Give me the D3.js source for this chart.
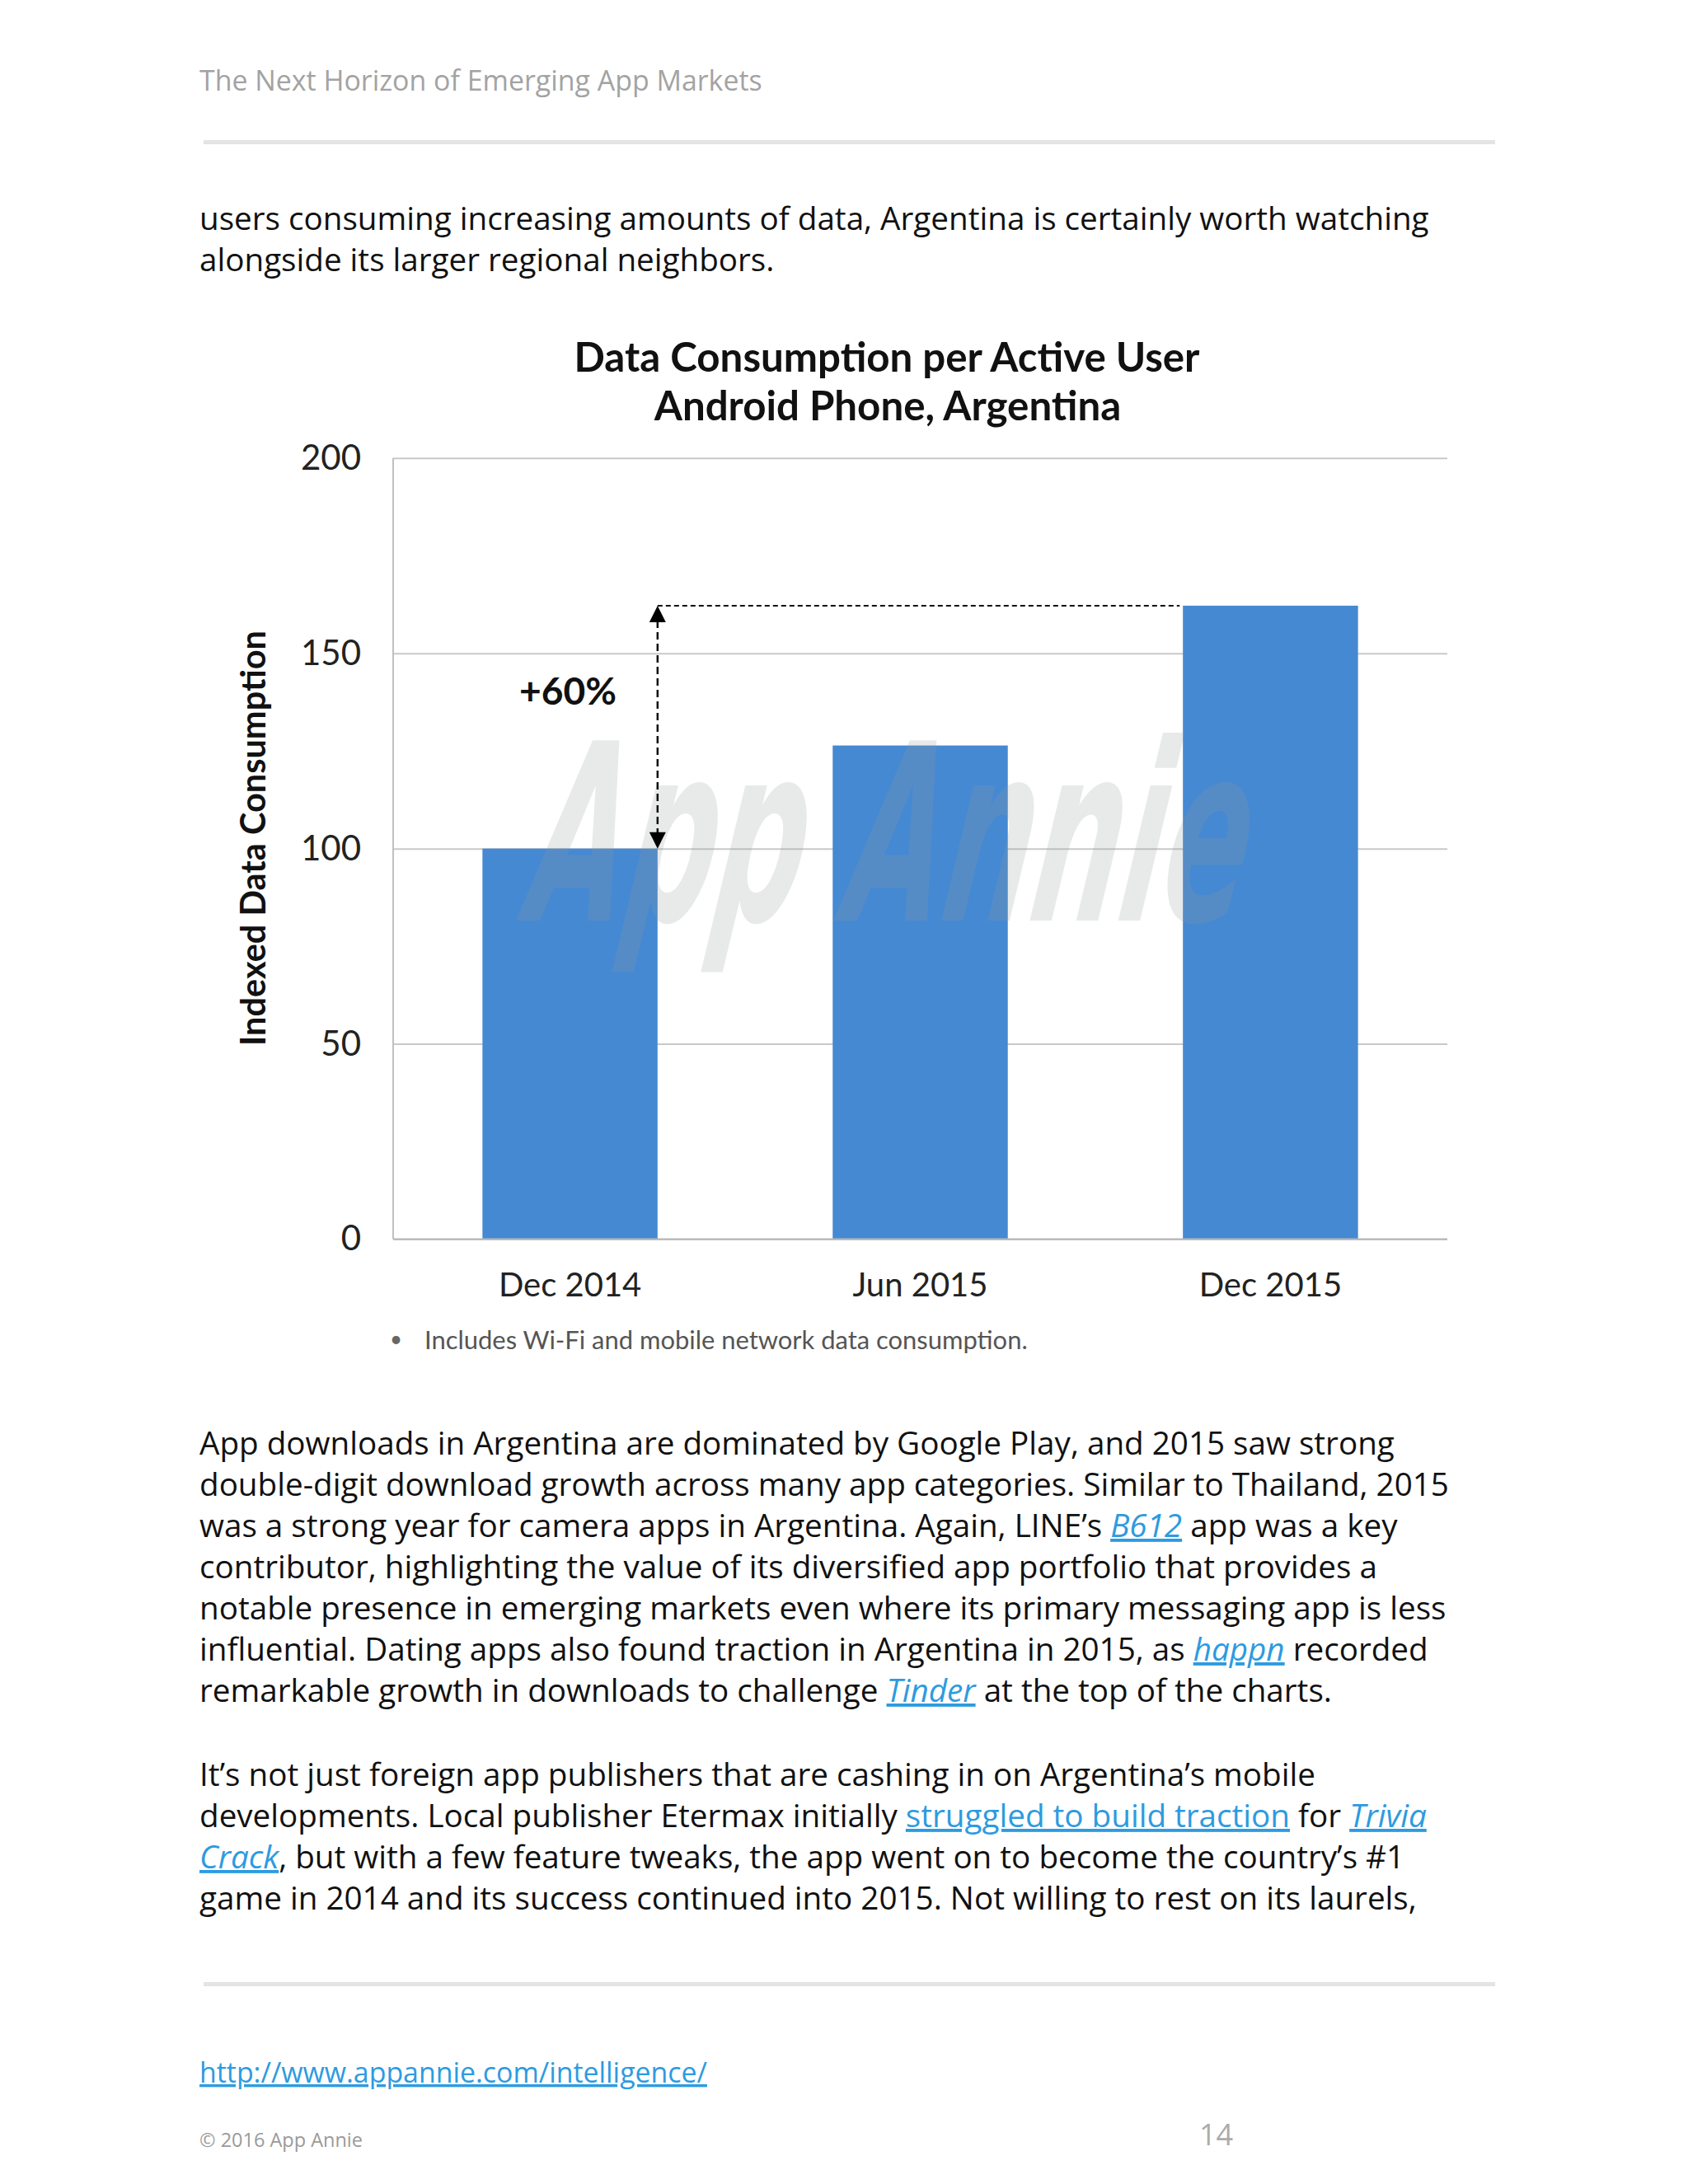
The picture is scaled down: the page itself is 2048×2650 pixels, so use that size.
<!DOCTYPE html>
<html>
<head>
<meta charset="utf-8">
<script src="https://cdn.jsdelivr.net/npm/d3@7"></script>
<style>
  html, body { margin: 0; padding: 0; background: #ffffff; }
  svg { display: block; }
</style>
</head>
<body>
<svg id="page" width="2048" height="2650"></svg>
<script>
// ---------------- DATA ----------------
const categories = ["Dec 2014", "Jun 2015", "Dec 2015"];
const values = [100, 126.4, 162.2];
const yTicks = [0, 50, 100, 150, 200];
const yDomain = [0, 200];
const chartTitle = ["Data Consumption per Active User", "Android Phone, Argentina"];
const yAxisTitle = "Indexed Data Consumption";
const growthLabel = "+60%";
const footnote = "Includes Wi-Fi and mobile network data consumption.";
const watermark = "App Annie";
const headerText = "The Next Horizon of Emerging App Markets";
// text segments: [text, style]  style 0 = normal, 1 = italic link, 2 = plain link
const introLines = [
  [["users consuming increasing amounts of data, Argentina is certainly worth watching", 0]],
  [["alongside its larger regional neighbors.", 0]]
];
const para2Lines = [
  [["App downloads in Argentina are dominated by Google Play, and 2015 saw strong", 0]],
  [["double-digit download growth across many app categories. Similar to Thailand, 2015", 0]],
  [["was a strong year for camera apps in Argentina. Again, LINE\u2019s ", 0], ["B612", 1], [" app was a key", 0]],
  [["contributor, highlighting the value of its diversified app portfolio that provides a", 0]],
  [["notable presence in emerging markets even where its primary messaging app is less", 0]],
  [["influential. Dating apps also found traction in Argentina in 2015, as ", 0], ["happn", 1], [" recorded", 0]],
  [["remarkable growth in downloads to challenge ", 0], ["Tinder", 1], [" at the top of the charts.", 0]]
];
const para3Lines = [
  [["It\u2019s not just foreign app publishers that are cashing in on Argentina\u2019s mobile", 0]],
  [["developments. Local publisher Etermax initially ", 0], ["struggled to build traction", 2], [" for ", 0], ["Trivia", 1]],
  [["Crack", 1], [", but with a few feature tweaks, the app went on to become the country\u2019s #1", 0]],
  [["game in 2014 and its success continued into 2015. Not willing to rest on its laurels,", 0]]
];
const footerLink = "http://www.appannie.com/intelligence/";
const copyright = "\u00a9 2016 App Annie";
const pageNumber = "14";

// ---------------- LAYOUT ----------------
const BAR = "#4589d3";
const LINK = "#2d9be0";
const GRID = "#c9c9c9";
const chartFont = "Lato, 'Open Sans', sans-serif";
const bodyFont = "'Open Sans', 'Noto Sans', sans-serif";
const plot = { left: 477, right: 1756, top: 555.8, bottom: 1503.5 };

const svg = d3.select("#page");

// fit font-size so that the text element has the target width
function fitWidth(sel, target) {
  const node = sel.node();
  const fs = parseFloat(sel.attr("font-size"));
  const w = node.getComputedTextLength();
  const nfs = fs * target / w;
  sel.attr("font-size", nfs);
  return nfs;
}

// ---------------- PAGE TEXT ----------------
const header = svg.append("text")
  .attr("x", 242).attr("y", 110)
  .attr("font-family", bodyFont).attr("font-size", 31)
  .attr("fill", "#a3a3a3").text(headerText);
fitWidth(header, 683);

svg.append("rect").attr("x", 247).attr("y", 170).attr("width", 1567).attr("height", 5).attr("fill", "#e4e4e4");
svg.append("rect").attr("x", 247).attr("y", 2405).attr("width", 1567).attr("height", 5).attr("fill", "#e4e4e4");

function drawLines(lines, y0, size) {
  lines.forEach((segs, i) => {
    const t = svg.append("text")
      .attr("x", 242).attr("y", y0 + i * 50)
      .attr("font-family", bodyFont).attr("font-size", size)
      .attr("fill", "#111");
    segs.forEach(([s, st]) => {
      const ts = t.append("tspan").text(s);
      if (st > 0) {
        ts.attr("fill", LINK).style("text-decoration", "underline");
        if (st === 1) ts.attr("font-style", "italic");
      }
    });
  });
}
// calibrate body font size on first intro line
const probe = svg.append("text").attr("font-family", bodyFont).attr("font-size", 34)
  .attr("x", -5000).attr("y", -5000).text(introLines[0][0][0]);
const bodySize = fitWidth(probe, 1492);
probe.remove();

drawLines(introLines, 279, bodySize);
drawLines(para2Lines, 1765, bodySize);
drawLines(para3Lines, 2167, bodySize);

const url = svg.append("text").attr("x", 242).attr("y", 2527)
  .attr("font-family", bodyFont).attr("font-size", bodySize)
  .attr("fill", LINK).style("text-decoration", "underline").text(footerLink);
fitWidth(url, 616);
const cp = svg.append("text").attr("x", 242).attr("y", 2605)
  .attr("font-family", bodyFont).attr("font-size", 22)
  .attr("fill", "#9a9a9a").text(copyright);
fitWidth(cp, 198);
svg.append("text").attr("x", 1455).attr("y", 2603)
  .attr("font-family", bodyFont).attr("font-size", 36)
  .attr("fill", "#ababab").text(pageNumber);

// ---------------- CHART ----------------
const x = d3.scaleBand().domain(categories).range([plot.left, plot.right])
  .paddingInner(0.5).paddingOuter(0.255);
const y = d3.scaleLinear().domain(yDomain).range([plot.bottom, plot.top]);

// title
const t1 = svg.append("text").attr("x", 1076).attr("y", 451)
  .attr("text-anchor", "middle").attr("font-family", chartFont)
  .attr("font-weight", 700).attr("font-size", 42).attr("fill", "#111").text(chartTitle[0]);
const titleSize = fitWidth(t1, 759);
svg.append("text").attr("x", 1077).attr("y", 510)
  .attr("text-anchor", "middle").attr("font-family", chartFont)
  .attr("font-weight", 700).attr("font-size", titleSize).attr("fill", "#111").text(chartTitle[1]);

// gridlines
const grid = svg.append("g").attr("transform", `translate(${plot.left},0)`)
  .call(d3.axisLeft(y).tickValues(yTicks).tickSize(-(plot.right - plot.left)).tickFormat(""));
grid.select(".domain").remove();
grid.selectAll(".tick line").attr("stroke", GRID).attr("stroke-width", 2);

// y tick labels
const yAx = svg.append("g").attr("transform", `translate(${plot.left},0)`)
  .call(d3.axisLeft(y).tickValues(yTicks).tickSize(0).tickPadding(39));
yAx.select(".domain").remove();
yAx.selectAll("text").attr("font-family", chartFont).attr("font-size", 42)
  .attr("fill", "#222").attr("font-weight", 400);

// left axis line
svg.append("line").attr("x1", plot.left).attr("x2", plot.left)
  .attr("y1", y(yDomain[1])).attr("y2", y(0)).attr("stroke", "#c0c0c0").attr("stroke-width", 2);

// bars
svg.append("g").selectAll("rect").data(values).join("rect")
  .attr("x", (d, i) => x(categories[i]))
  .attr("width", x.bandwidth())
  .attr("y", d => y(d))
  .attr("height", d => y(0) - y(d))
  .attr("fill", BAR);

// baseline
svg.append("line").attr("x1", plot.left).attr("x2", plot.right)
  .attr("y1", y(0)).attr("y2", y(0)).attr("stroke", "#b8b8b8").attr("stroke-width", 2);

// watermark (scaled horizontally to its footprint, slanted like the brush logo)
const wm = svg.append("text").attr("x", 0).attr("y", 0)
  .attr("font-family", "'DejaVu Sans', sans-serif").attr("font-style", "italic")
  .attr("font-weight", 700).attr("font-size", 300)
  .attr("fill", "#929595").attr("fill-opacity", 0.21).text(watermark);
const wmW = wm.node().getComputedTextLength();
wm.attr("transform", `translate(636,1117) skewX(-8) scale(${870 / wmW},1)`);

// x labels
const xAx = svg.append("g").attr("transform", `translate(0,${plot.bottom})`)
  .call(d3.axisBottom(x).tickSize(0).tickPadding(41));
xAx.select(".domain").remove();
xAx.selectAll("text").attr("font-family", chartFont).attr("font-size", 40).attr("fill", "#222");

// y axis title
const yt = svg.append("text")
  .attr("transform", "translate(322,1017) rotate(-90)")
  .attr("text-anchor", "middle").attr("font-family", chartFont)
  .attr("font-weight", 700).attr("font-size", 36).attr("fill", "#111").text(yAxisTitle);
fitWidth(yt, 504);

// growth annotation
const ax = x(categories[0]) + x.bandwidth();
const yLow = y(values[0]);
const yHigh = y(values[2]);
svg.append("line").attr("x1", ax).attr("x2", x(categories[2]) - 4)
  .attr("y1", yHigh).attr("y2", yHigh)
  .attr("stroke", "#111").attr("stroke-width", 2).attr("stroke-dasharray", "6 4");
svg.append("line").attr("x1", ax).attr("x2", ax)
  .attr("y1", yHigh + 18).attr("y2", yLow - 18)
  .attr("stroke", "#111").attr("stroke-width", 2.5).attr("stroke-dasharray", "9 5");
const head = 10, hh = 20;
svg.append("path").attr("d", `M${ax},${yHigh} L${ax - head},${yHigh + hh} L${ax + head},${yHigh + hh} Z`).attr("fill", "#000");
svg.append("path").attr("d", `M${ax},${yLow} L${ax - head},${yLow - hh} L${ax + head},${yLow - hh} Z`).attr("fill", "#000");

const g = svg.append("text").attr("x", 689).attr("y", 855).attr("text-anchor", "middle")
  .attr("font-family", chartFont).attr("font-weight", 700).attr("font-size", 42)
  .attr("fill", "#111").text(growthLabel);
fitWidth(g, 118);

// footnote
svg.append("text").attr("x", 473).attr("y", 1634).attr("font-family", chartFont)
  .attr("font-size", 26).attr("fill", "#666").text("\u2022");
const fn = svg.append("text").attr("x", 515).attr("y", 1637).attr("font-family", chartFont)
  .attr("font-size", 27).attr("fill", "#555").text(footnote);
fitWidth(fn, 732);
</script>
</body>
</html>
